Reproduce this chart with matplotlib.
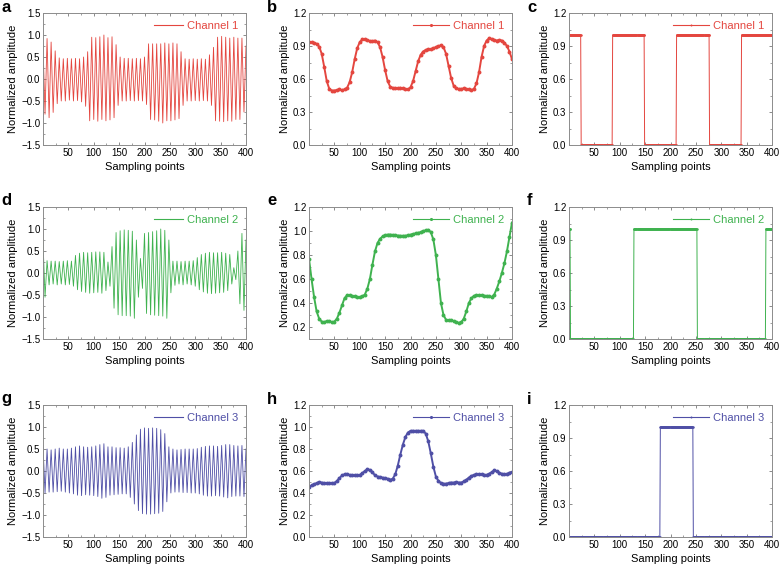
import numpy as np
import matplotlib
matplotlib.use('Agg')
import matplotlib.pyplot as plt
from matplotlib.ticker import AutoMinorLocator, MultipleLocator

plt.rcParams['font.family'] = ['Liberation Sans', 'DejaVu Sans']
plt.rcParams['axes.unicode_minus'] = True

# ---- data ----
# raw signals: signed extreme values every 4 sampling points (0..400)
raw_step = 4
ch1_raw = [0.78, -0.80, 0.92, -0.88, 0.84, -0.76, 0.64, -0.56, 0.48, -0.50,
           0.46, -0.50, 0.47, -0.48, 0.46, -0.50, 0.47, -0.49, 0.46, -0.52,
           0.50, -0.62, 0.62, -0.95, 0.95, -0.92, 0.94, -0.96, 0.96, -0.92,
           1.00, -0.95, 0.94, -0.93, 0.96, -0.88, 0.78, -0.60, 0.50, -0.50,
           0.47, -0.50, 0.47, -0.49, 0.46, -0.50, 0.47, -0.49, 0.46, -0.50,
           0.50, -0.58, 0.80, -0.92, 0.80, -0.93, 0.80, -0.96, 0.80, -1.00,
           0.82, -0.95, 0.80, -0.95, 0.82, -0.93, 0.80, -0.90, 0.62, -0.60,
           0.46, -0.50, 0.45, -0.50, 0.46, -0.49, 0.45, -0.50, 0.46, -0.49,
           0.45, -0.50, 0.55, -0.60, 0.72, -0.95, 0.95, -0.96, 0.97, -0.97,
           0.95, -0.95, 0.93, -0.96, 0.95, -0.92, 0.93, -0.92, 0.93, -0.75,
           0.75]
ch2_raw = [0.72, -0.55, 0.28, -0.27, 0.27, -0.25, 0.27, -0.27, 0.26, -0.25,
           0.27, -0.27, 0.28, -0.26, 0.27, -0.30, 0.40, -0.38, 0.45, -0.42,
           0.47, -0.44, 0.46, -0.46, 0.47, -0.45, 0.48, -0.44, 0.48, -0.46,
           0.47, -0.40, 0.25, -0.30, 0.60, -0.80, 0.92, -0.95, 0.96, -0.97,
           0.98, -0.97, 0.97, -0.98, 0.95, -1.03, 0.75, -0.55, 0.33, -0.35,
           0.90, -0.92, 0.92, -0.95, 0.94, -0.96, 0.96, -0.97, 1.00, -0.98,
           0.97, -1.03, 0.75, -0.45, 0.27, -0.28, 0.27, -0.25, 0.26, -0.27,
           0.27, -0.25, 0.27, -0.27, 0.28, -0.30, 0.35, -0.38, 0.42, -0.43,
           0.45, -0.46, 0.47, -0.47, 0.46, -0.46, 0.46, -0.45, 0.47, -0.44,
           0.45, -0.40, 0.42, -0.25, 0.12, -0.15, 0.50, -0.70, 0.90, -0.85,
           0.75]
ch3_raw = [0.58, -0.50, 0.50, -0.48, 0.48, -0.48, 0.50, -0.47, 0.52, -0.46,
           0.50, -0.48, 0.50, -0.50, 0.52, -0.52, 0.55, -0.55, 0.57, -0.56,
           0.55, -0.54, 0.54, -0.55, 0.55, -0.56, 0.57, -0.58, 0.60, -0.62,
           0.62, -0.60, 0.55, -0.55, 0.55, -0.54, 0.53, -0.53, 0.53, -0.52,
           0.52, -0.52, 0.55, -0.60, 0.65, -0.75, 0.82, -0.90, 0.95, -0.97,
           0.98, -0.98, 0.97, -0.98, 0.98, -0.97, 0.97, -0.96, 0.94, -0.92,
           0.85, -0.70, 0.55, -0.50, 0.50, -0.48, 0.48, -0.48, 0.49, -0.49,
           0.50, -0.49, 0.50, -0.50, 0.50, -0.50, 0.51, -0.52, 0.54, -0.55,
           0.56, -0.57, 0.57, -0.57, 0.57, -0.56, 0.56, -0.57, 0.58, -0.59,
           0.60, -0.61, 0.60, -0.58, 0.58, -0.57, 0.57, -0.57, 0.58, -0.58,
           0.50]

# envelopes every 5 sampling points (0..400)
env_step = 5
ch1_env = [0.935, 0.935, 0.93, 0.92, 0.895, 0.83, 0.71, 0.58, 0.51, 0.495,
           0.495, 0.50, 0.505, 0.50, 0.505, 0.52, 0.57, 0.66, 0.78, 0.88,
           0.935, 0.96, 0.96, 0.955, 0.945, 0.945, 0.95, 0.935, 0.89, 0.80,
           0.68, 0.58, 0.53, 0.52, 0.515, 0.515, 0.52, 0.515, 0.51, 0.505,
           0.525, 0.58, 0.67, 0.76, 0.82, 0.85, 0.865, 0.87, 0.87, 0.88,
           0.89, 0.90, 0.905, 0.89, 0.83, 0.72, 0.61, 0.54, 0.515, 0.51,
           0.51, 0.515, 0.51, 0.505, 0.50, 0.51, 0.56, 0.66, 0.80, 0.90,
           0.95, 0.97, 0.965, 0.955, 0.95, 0.955, 0.95, 0.93, 0.90, 0.85,
           0.78]
ch2_env = [0.77, 0.60, 0.45, 0.33, 0.27, 0.245, 0.24, 0.25, 0.25, 0.24,
           0.245, 0.27, 0.32, 0.38, 0.44, 0.465, 0.465, 0.455, 0.455, 0.45,
           0.45, 0.455, 0.47, 0.52, 0.60, 0.72, 0.83, 0.90, 0.935, 0.955,
           0.965, 0.97, 0.97, 0.968, 0.965, 0.962, 0.96, 0.96, 0.96, 0.965,
           0.97, 0.975, 0.98, 0.985, 0.99, 1.00, 1.005, 1.01, 0.99, 0.93,
           0.80, 0.60, 0.40, 0.30, 0.26, 0.255, 0.255, 0.25, 0.24, 0.235,
           0.24, 0.27, 0.33, 0.40, 0.44, 0.46, 0.465, 0.465, 0.465, 0.46,
           0.46, 0.455, 0.45, 0.47, 0.52, 0.58, 0.65, 0.73, 0.83, 0.95,
           1.07]
ch3_env = [0.455, 0.47, 0.48, 0.49, 0.50, 0.495, 0.49, 0.49, 0.49, 0.49,
           0.49, 0.51, 0.535, 0.56, 0.57, 0.57, 0.565, 0.56, 0.56, 0.56,
           0.565, 0.58, 0.60, 0.615, 0.61, 0.59, 0.56, 0.55, 0.545, 0.54,
           0.535, 0.53, 0.52, 0.53, 0.57, 0.65, 0.75, 0.84, 0.91, 0.95,
           0.965, 0.965, 0.965, 0.965, 0.965, 0.965, 0.94, 0.87, 0.76, 0.64,
           0.55, 0.51, 0.49, 0.485, 0.485, 0.49, 0.495, 0.495, 0.50, 0.495,
           0.495, 0.505, 0.52, 0.54, 0.555, 0.565, 0.57, 0.57, 0.57, 0.565,
           0.565, 0.575, 0.59, 0.605, 0.60, 0.585, 0.575, 0.57, 0.575, 0.58,
           0.59]

# binarised outputs: run edges (sampling points) and level of each run
ch1_edges = [0, 24, 86, 149, 212, 277, 340, 401]
ch1_levels = [1, 0, 1, 0, 1, 0, 1]
ch2_edges = [0, 3, 128, 253, 388, 401]
ch2_levels = [1, 0, 1, 0, 1]
ch3_edges = [0, 180, 245, 401]
ch3_levels = [0, 1, 0]

channels = ['Channel 1', 'Channel 2', 'Channel 3']
colors = ['#e4463f', '#3fb24f', '#4f4fa6']
raws = [ch1_raw, ch2_raw, ch3_raw]
envs = [ch1_env, ch2_env, ch3_env]
edges = [ch1_edges, ch2_edges, ch3_edges]
levels = [ch1_levels, ch2_levels, ch3_levels]
letters = ['a', 'b', 'c', 'd', 'e', 'f', 'g', 'h', 'i']

W, H = 780, 571
fig = plt.figure(figsize=(W / 100, H / 100), dpi=100)

col_left = [43, 309, 569]
row_top = [13, 207, 405]
ax_w, ax_h = 203, 132


def style_ax(ax, ymin, ymax, ystep):
    ax.set_xlim(0, 400)
    ax.set_ylim(ymin, ymax)
    ax.xaxis.set_major_locator(MultipleLocator(50))
    ax.yaxis.set_major_locator(MultipleLocator(ystep))
    ax.xaxis.set_minor_locator(AutoMinorLocator(2))
    ax.yaxis.set_minor_locator(AutoMinorLocator(2))
    ax.tick_params(which='both', direction='in', top=True, right=True,
                   color='#777777', labelsize=7, pad=2)
    ax.tick_params(which='major', length=2.5, width=0.6)
    ax.tick_params(which='minor', length=1.5, width=0.5)
    for s in ax.spines.values():
        s.set_color('#8c8c8c')
        s.set_linewidth(0.7)
    ax.set_xlabel('Sampling points', fontsize=8, labelpad=3)
    ax.set_ylabel('Normalized amplitude', fontsize=8, labelpad=2)
    ticks = ax.get_xticks()
    ax.set_xticks(ticks[ticks > 0])
    ax.set_xlim(0, 400)


for r in range(3):
    c = colors[r]
    for k in range(3):
        left = col_left[k] / W
        bottom = 1 - (row_top[r] + ax_h) / H
        ax = fig.add_axes([left, bottom, ax_w / W, ax_h / H])
        if k == 0:
            y = np.array(raws[r])
            x = np.arange(len(y)) * raw_step
            ax.plot(x, y, color=c, lw=0.6, label=channels[r])
            style_ax(ax, -1.5, 1.5, 0.5)
            hl = 2.6
        elif k == 1:
            y = np.array(envs[r])
            x = np.arange(len(y)) * env_step
            ax.plot(x, y, color=c, lw=1.4, marker='o', ms=2.8, mew=0,
                    label=channels[r])
            if r == 0:
                style_ax(ax, 0, 1.2, 0.3)
            elif r == 1:
                style_ax(ax, 0.1, 1.2, 0.2)
                ax.set_yticks([0.2, 0.4, 0.6, 0.8, 1.0, 1.2])
                ax.set_ylim(0.1, 1.2)
            else:
                style_ax(ax, 0, 1.2, 0.2)
            hl = 3.2
        else:
            y = np.repeat(levels[r], np.diff(edges[r]))
            x = np.arange(len(y))
            ax.plot(x, y, color=c, lw=0.7, marker='o', ms=1.8, mew=0,
                    label=channels[r])
            style_ax(ax, 0, 1.2, 0.3)
            hl = 3.2
        leg = ax.legend(loc='upper right', frameon=False, fontsize=8,
                        handlelength=hl, handletextpad=0.4, markerscale=0.8,
                        borderaxespad=0.3)
        for h in leg.get_lines():
            h.set_linewidth(0.8)
        for t in leg.get_texts():
            t.set_color(c)
        fig.text((col_left[k] - 42) / W, 1 - (row_top[r] - 6) / H,
                 letters[r * 3 + k], fontsize=12, fontweight='bold',
                 va='center', ha='left')

fig.savefig('out.png', dpi=100)
